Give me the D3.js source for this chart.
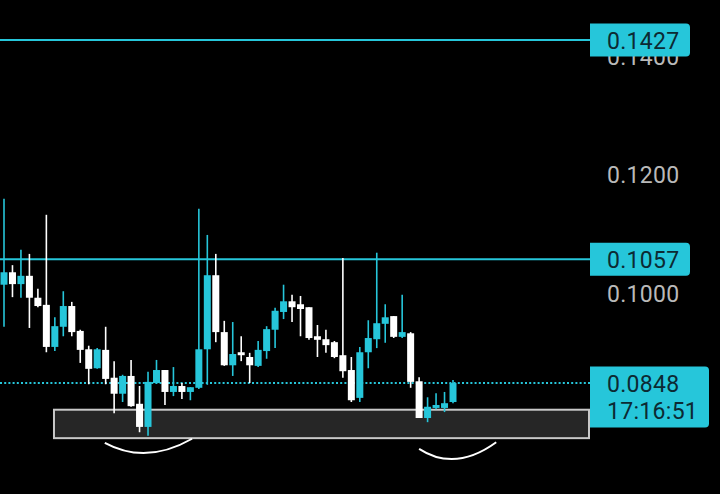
<!DOCTYPE html>
<html><head><meta charset="utf-8">
<script src="https://cdn.jsdelivr.net/npm/d3@7"></script>
<style>
html,body{margin:0;padding:0;background:#000;overflow:hidden;}
svg{display:block;}
text{font-family:Roboto,"Noto Sans",sans-serif;}
</style></head>
<body>
<svg id="chart" width="720" height="494"></svg>
<script>
// ---- data ----
const openV  = [0.1014,0.1035,0.1015,0.1029,0.0992,0.0980,0.0909,0.0943,0.0978,0.0936,0.0905,0.0873,0.0904,0.0857,0.0830,0.0860,0.0813,0.0774,0.0848,0.0870,0.0833,0.0843,0.0833,0.0840,0.0905,0.1030,0.0934,0.0878,0.0900,0.0892,0.0877,0.0902,0.0938,0.0968,0.0986,0.0981,0.0976,0.0927,0.0922,0.0917,0.0895,0.0870,0.0823,0.0900,0.0922,0.0948,0.0961,0.0926,0.0932,0.0851,0.0789,0.0806,0.0806,0.0816];
const highV  = [0.1159,0.1047,0.1073,0.1066,0.1007,0.1132,0.0959,0.1003,0.0985,0.0938,0.0911,0.0907,0.0943,0.0885,0.0862,0.0887,0.0843,0.0867,0.0887,0.0870,0.0875,0.0848,0.0841,0.1142,0.1098,0.1066,0.0953,0.0951,0.0927,0.0899,0.0919,0.0944,0.0975,0.1014,0.0997,0.0995,0.0976,0.0946,0.0938,0.0919,0.1059,0.0892,0.0909,0.0954,0.1068,0.0981,0.0961,0.0997,0.0934,0.0858,0.0824,0.0831,0.0833,0.0853];
const lowV   = [0.0943,0.0993,0.0992,0.0941,0.0976,0.0900,0.0902,0.0927,0.0927,0.0882,0.0846,0.0872,0.0846,0.0797,0.0816,0.0808,0.0765,0.0759,0.0848,0.0811,0.0826,0.0821,0.0819,0.0838,0.0845,0.0917,0.0877,0.0860,0.0885,0.0848,0.0875,0.0889,0.0907,0.0956,0.0951,0.0927,0.0921,0.0892,0.0899,0.0890,0.0857,0.0816,0.0816,0.0873,0.0907,0.0916,0.0924,0.0924,0.0840,0.0789,0.0782,0.0804,0.0799,0.0814];
const closeV = [0.1035,0.1015,0.1029,0.0992,0.0978,0.0909,0.0944,0.0978,0.0934,0.0904,0.0872,0.0905,0.0855,0.0830,0.0860,0.0809,0.0774,0.0850,0.0870,0.0833,0.0843,0.0833,0.0841,0.0905,0.1030,0.0934,0.0878,0.0897,0.0895,0.0878,0.0904,0.0939,0.0970,0.0986,0.0976,0.0973,0.0924,0.0921,0.0912,0.0892,0.0868,0.0819,0.0900,0.0924,0.0949,0.0959,0.0926,0.0934,0.0850,0.0789,0.0808,0.0811,0.0814,0.0848];
const axisTicks = [0.1400, 0.1200, 0.1000];
const levelLines = [0.1427, 0.1057];
const lastPrice = 0.0848;
const countdown = "17:16:51";
// drawn annotations (x in candle-index units, y in price)
const zoneBox = {x0: 5.9, top: 0.0803, bottom: 0.0755};
const arcs = [
  [[11.9,0.0747],[16.9,0.0730],[22.2,0.0754]],
  [[49.0,0.0737],[53.4,0.0720],[58.1,0.0748]]
];

// ---- setup ----
const W = 720, H = 494, plotRight = 590;
const CYAN = "#26c6da", WHITE = "#ffffff", LABEL = "#b9b9b9", BOXTEXT = "#0c2a33";
const FS = "23px", LS = "0.3px";
const svg = d3.select("#chart");
svg.append("rect").attr("width",W).attr("height",H).attr("fill","#000");

const x = d3.scaleLinear().domain([0, 53]).range([4, 453]);
const y = d3.scaleLinear().domain([0.10, 0.14]).range([293, 56]);

// axis labels
const axis = d3.axisRight(y).tickValues(axisTicks).tickFormat(d3.format(".4f")).tickSize(0).tickPadding(0);
const gA = svg.append("g").attr("transform", `translate(607,0)`).call(axis);
gA.select(".domain").remove();
gA.selectAll("text").attr("fill", LABEL).style("font-size",FS).style("letter-spacing",LS)
  .style("font-family","Roboto").attr("dy","0.35em").attr("x",0);

// zone rectangle
svg.append("rect")
  .attr("x", x(zoneBox.x0)).attr("y", y(zoneBox.top))
  .attr("width", plotRight - 1 - x(zoneBox.x0)).attr("height", y(zoneBox.bottom) - y(zoneBox.top))
  .attr("fill", "#262626").attr("stroke", "#c8c8c8").attr("stroke-width", 2);

// level lines
svg.selectAll("line.level").data(levelLines).join("line").attr("class","level")
  .attr("x1",0).attr("x2",plotRight).attr("y1",d=>y(d)).attr("y2",d=>y(d))
  .attr("stroke",CYAN).attr("stroke-width",2);

// last price dotted line
svg.append("line").attr("x1",0).attr("x2",plotRight).attr("y1",y(lastPrice)).attr("y2",y(lastPrice))
  .attr("stroke",CYAN).attr("stroke-width",2).attr("stroke-dasharray","2,2.2");

// candles
const data = openV.map((o,i)=>({i, o, h: highV[i], l: lowV[i], c: closeV[i]}));
const bodyW = 7;
const g = svg.append("g");
g.selectAll("line.wick").data(data).join("line").attr("class","wick")
  .attr("x1",d=>x(d.i)).attr("x2",d=>x(d.i)).attr("y1",d=>y(d.h)).attr("y2",d=>y(d.l))
  .attr("stroke",d=>d.c>=d.o?CYAN:WHITE).attr("stroke-width",1.6);
g.selectAll("rect.body").data(data).join("rect").attr("class","body")
  .attr("x",d=>x(d.i)-bodyW/2).attr("width",bodyW)
  .attr("y",d=>y(Math.max(d.o,d.c)))
  .attr("height",d=>Math.max(2, Math.abs(y(d.o)-y(d.c))))
  .attr("fill",d=>d.c>=d.o?CYAN:WHITE);

// arcs
arcs.forEach(pts=>{
  const [p0,pm,p2] = pts.map(p=>[x(p[0]), y(p[1])]);
  const cx = 2*pm[0] - (p0[0]+p2[0])/2, cy = 2*pm[1] - (p0[1]+p2[1])/2;
  const p = d3.path(); p.moveTo(p0[0],p0[1]); p.quadraticCurveTo(cx,cy,p2[0],p2[1]);
  svg.append("path").attr("d",p.toString()).attr("fill","none").attr("stroke",WHITE).attr("stroke-width",2);
});

// label boxes
function box(yTop, yBot, wid){
  const x0 = plotRight, x1 = plotRight + wid, r = 4;
  return `M${x0},${yTop}H${x1-r}Q${x1},${yTop} ${x1},${yTop+r}V${yBot-r}Q${x1},${yBot} ${x1-r},${yBot}H${x0}Z`;
}
levelLines.forEach(v=>{
  const yc = y(v);
  svg.append("path").attr("d", box(yc-16.5, yc+16.5, 100)).attr("fill", CYAN);
  svg.append("text").attr("x",607).attr("y",yc+0.5).attr("dy","0.35em").attr("fill",BOXTEXT)
    .style("font-size",FS).style("letter-spacing",LS).text(d3.format(".4f")(v));
});
{
  const yc = y(lastPrice);
  svg.append("path").attr("d", box(yc-16.5, yc+44.5, 119)).attr("fill", CYAN);
  svg.append("text").attr("x",607).attr("y",yc+1).attr("dy","0.35em").attr("fill",BOXTEXT)
    .style("font-size",FS).style("letter-spacing",LS).text(d3.format(".4f")(lastPrice));
  svg.append("text").attr("x",607).attr("y",yc+28).attr("dy","0.35em").attr("fill",BOXTEXT)
    .style("font-size",FS).style("letter-spacing",LS).text(countdown);
}
</script>
</body></html>
